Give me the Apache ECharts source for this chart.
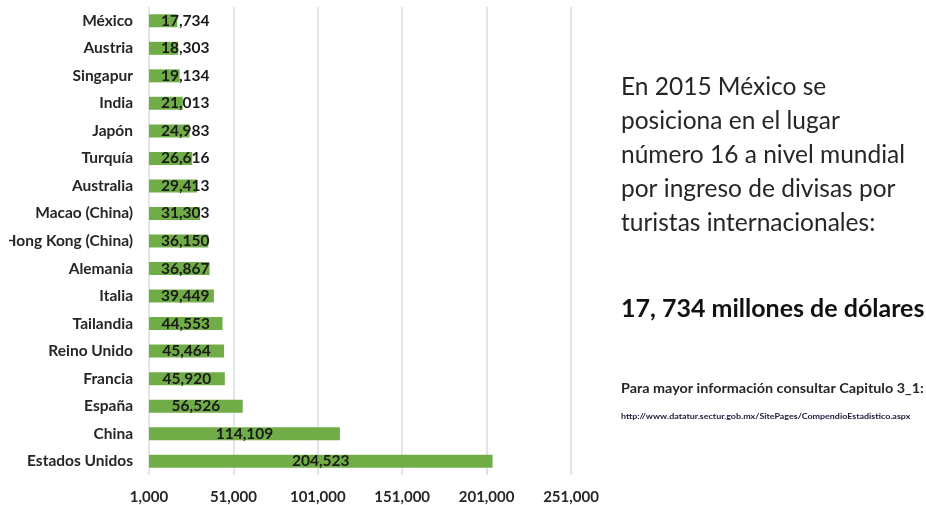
<!DOCTYPE html>
<html>
<head>
<meta charset="utf-8">
<script src="https://cdn.jsdelivr.net/npm/echarts@6/dist/echarts.min.js"></script>
<style>
  html, body { margin: 0; padding: 0; background: #fff; }
  #wrap { position: absolute; left: 0; top: 0; width: 926px; height: 505px; overflow: hidden; }
  #chart { position: absolute; left: 9px; top: 0; width: 917px; height: 505px; }
</style>
</head>
<body>
<div id="wrap"><div id="chart"></div></div>
<script>
// divisas por turismo internacional, 2015 (millones de dólares)
const countries = ['México', 'Austria', 'Singapur', 'India', 'Japón', 'Turquía', 'Australia',
  'Macao (China)', 'Hong Kong (China)', 'Alemania', 'Italia', 'Tailandia', 'Reino Unido',
  'Francia', 'España', 'China', 'Estados Unidos']
const values = [17734, 18303, 19134, 21013, 24983, 26616, 29413, 31303, 36150, 36867,
  39449, 44553, 45464, 45920, 56526, 114109, 204523]
const axisTicks = [1000, 51000, 101000, 151000, 201000, 251000]

const headline = ['En 2015 México se', 'posiciona en el lugar', 'número 16 a nivel mundial',
  'por ingreso de divisas por', 'turistas internacionales:']
const amountText = '17, 734 millones de dólares'
const moreInfo = 'Para mayor información consultar Capitulo 3_1:'
const link = 'http://www.datatur.sectur.gob.mx/SitePages/CompendioEstadistico.aspx'

const fmt = v => v.toLocaleString('en-US')
const font = 'Lato, "Open Sans", sans-serif'
const textColor = '#262626'

const chart = echarts.init(document.getElementById('chart'))

// short bars: Excel pushes the label right so it doesn't cross the axis
const barData = values.map(v => {
  const item = { value: v }
  if (v < 43000) {
    item.label = { position: 'insideLeft', distance: 12 }
  }
  return item
})

chart.setOption({
  animation: false,
  grid: {
    left: 140,
    right: 917 - 562,
    top: 7,
    bottom: 505 - 475,
    outerBoundsMode: 'none'
  },
  xAxis: {
    type: 'value',
    min: axisTicks[0],
    max: axisTicks[axisTicks.length - 1],
    interval: axisTicks[1] - axisTicks[0],
    axisLine: { show: false },
    axisTick: { show: false },
    splitLine: { lineStyle: { color: '#dadde4', width: 1.5 } },
    axisLabel: {
      formatter: v => fmt(v),
      color: textColor,
      fontFamily: font,
      fontWeight: 'bold',
      fontSize: 15,
      margin: 15
    }
  },
  yAxis: {
    type: 'category',
    data: countries,
    inverse: true,
    axisLine: { show: false },
    axisTick: { show: false },
    axisLabel: {
      color: textColor,
      fontFamily: font,
      fontWeight: 'bold',
      fontSize: 15.5,
      margin: 16
    }
  },
  series: [{
    type: 'bar',
    data: barData,
    barWidth: 13,
    itemStyle: { color: '#70ad47' },
    label: {
      show: true,
      position: 'inside',
      formatter: p => fmt(p.value),
      color: '#1a1a1a',
      fontFamily: font,
      fontWeight: 'bold',
      fontSize: 15.5
    }
  }],
  graphic: [
    {
      type: 'text',
      left: 612,
      top: 70,
      style: {
        text: headline.join('\n'),
        font: '24.5px ' + font,
        fill: textColor,
        lineHeight: 34
      }
    },
    {
      type: 'text',
      left: 612,
      top: 296,
      style: {
        text: amountText,
        font: 'bold 25px ' + font,
        fill: '#111'
      }
    },
    {
      type: 'text',
      x: 612,
      y: 382,
      scaleX: 1.15,
      style: {
        text: moreInfo,
        font: 'bold 12.5px ' + font,
        fill: textColor
      }
    },
    {
      type: 'text',
      x: 612,
      y: 413,
      scaleX: 1.37,
      style: {
        text: link,
        font: 'bold 6.5px ' + font,
        fill: '#202040'
      }
    }
  ]
})
</script>
</body>
</html>
